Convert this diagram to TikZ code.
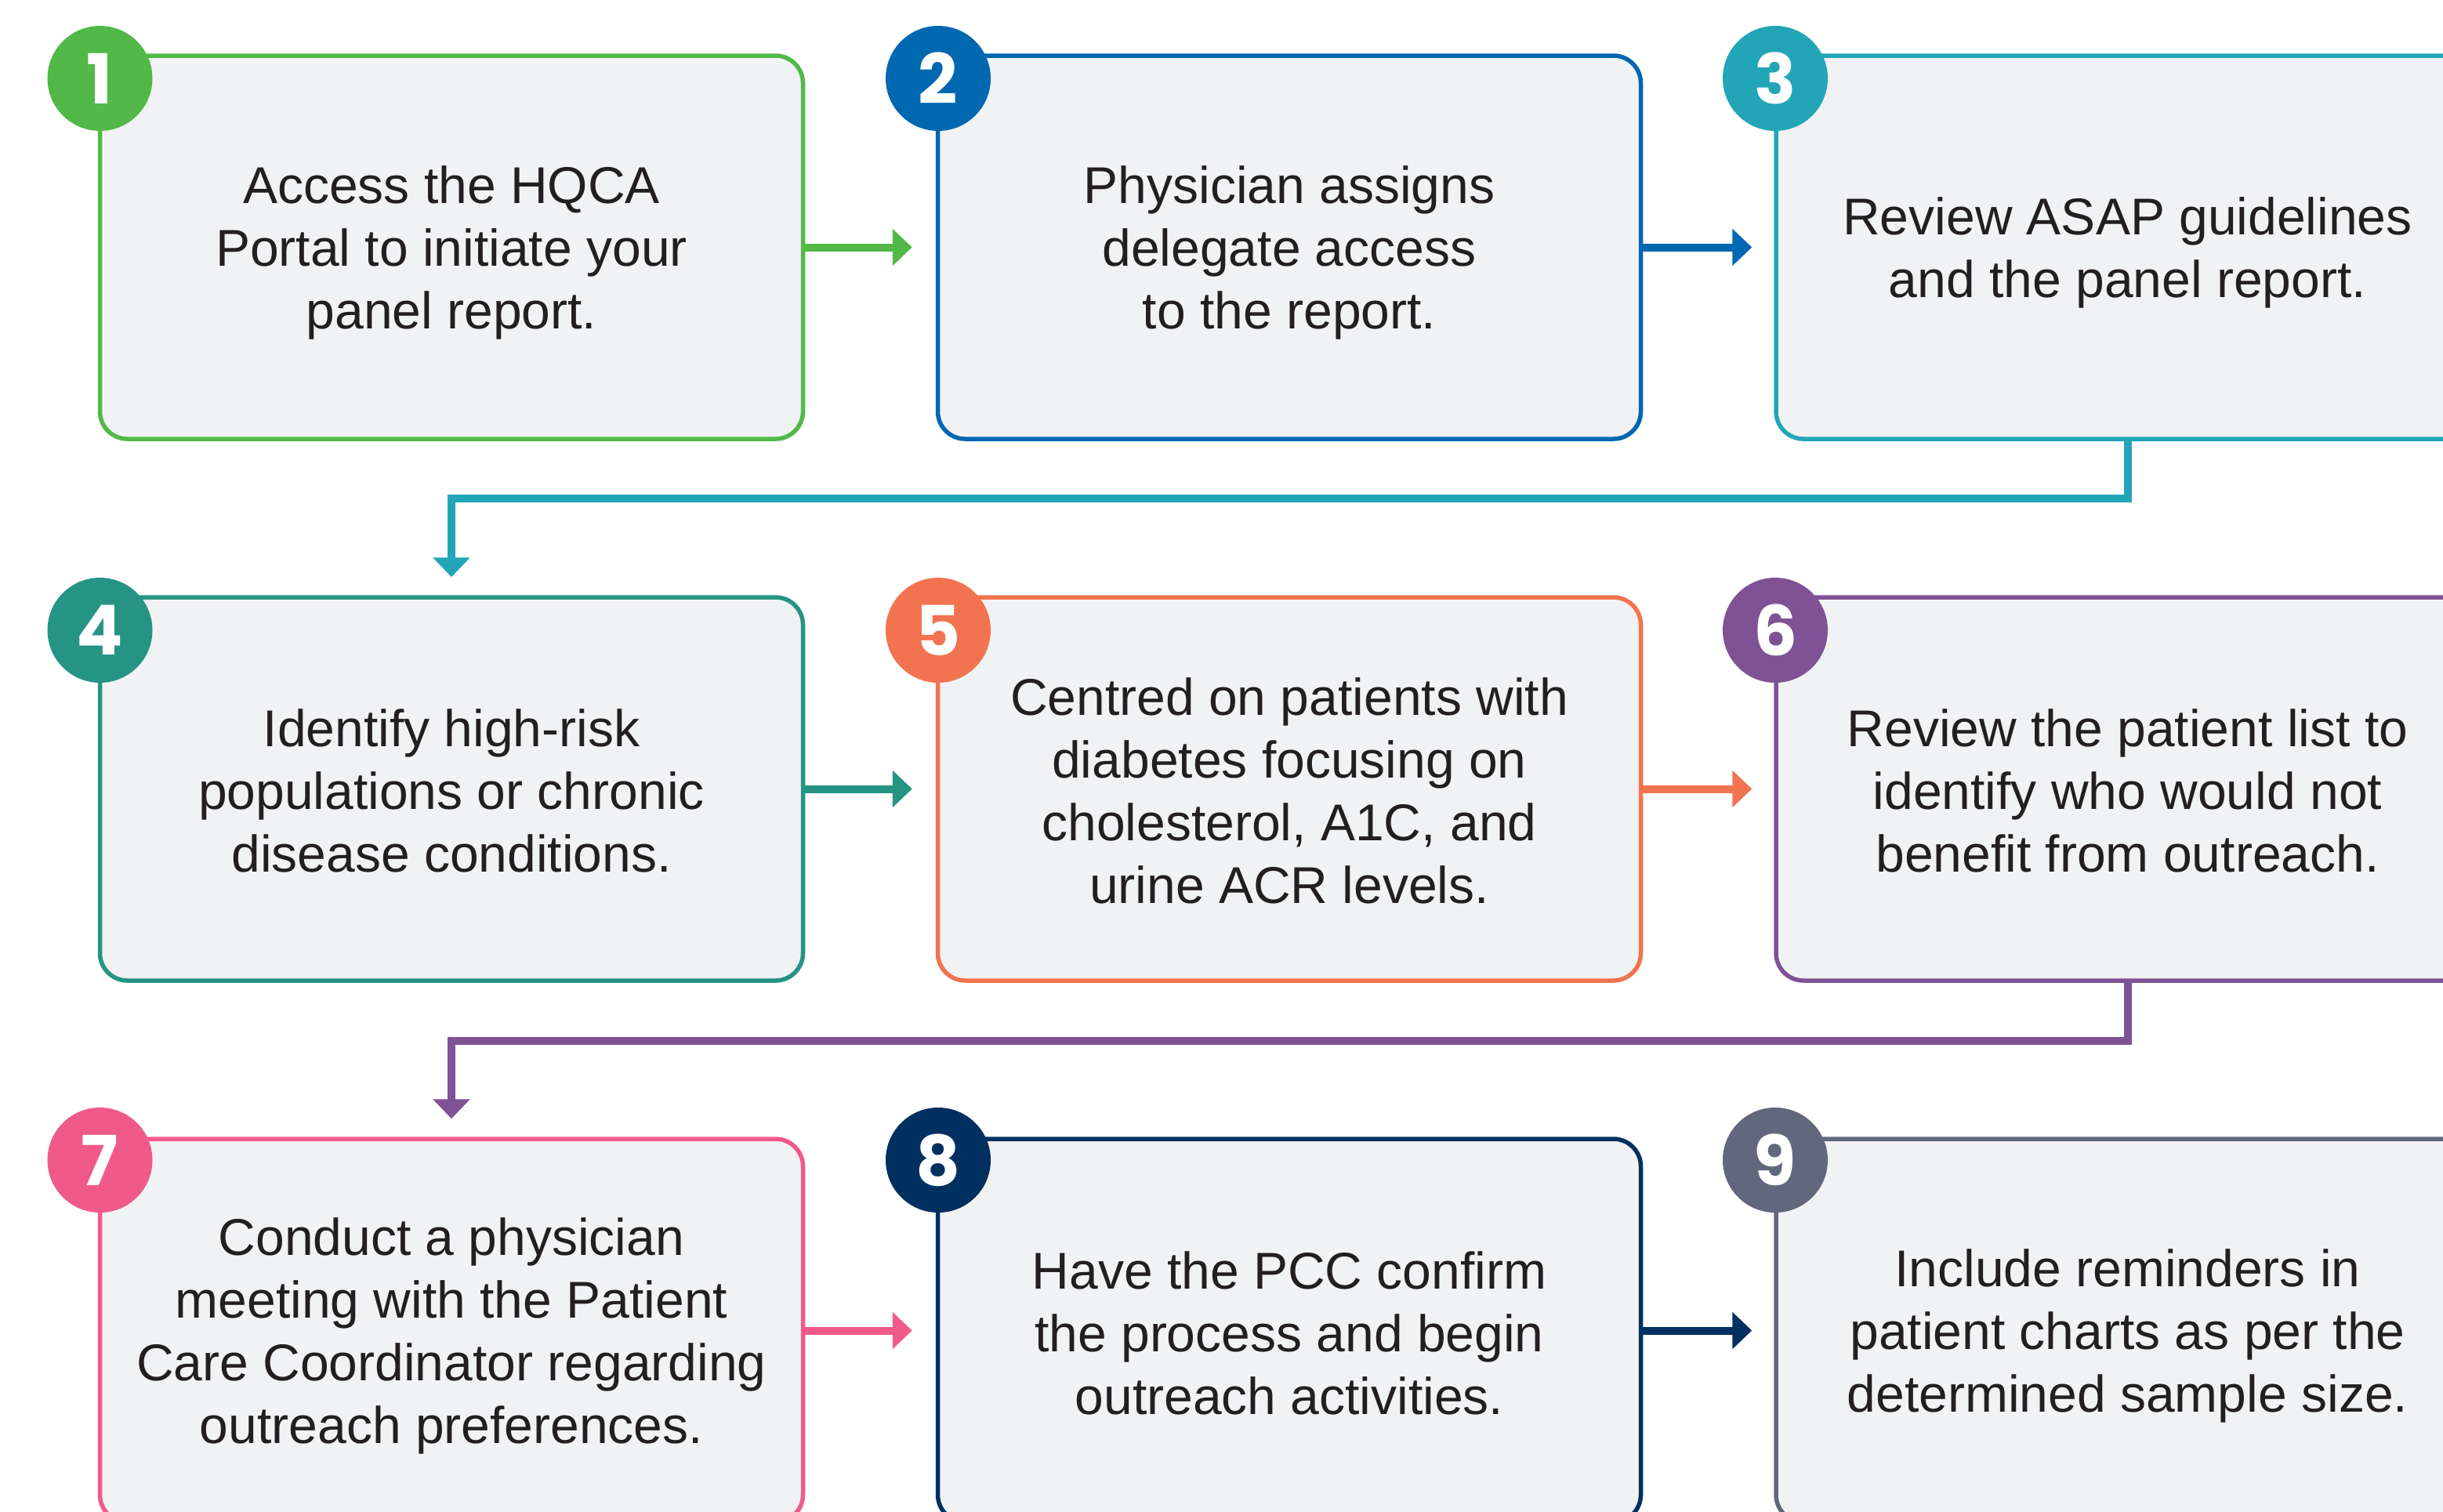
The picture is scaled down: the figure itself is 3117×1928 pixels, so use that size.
\documentclass[tikz,border=0pt]{standalone}
\usepackage{fontspec}
\setmainfont{Liberation Sans}
\newfontfamily\numfont{Poppins}
\usetikzlibrary{arrows.meta}
\definecolor{cgreen}{HTML}{52B948}
\definecolor{cblue}{HTML}{0067B1}
\definecolor{cteal}{HTML}{22A6B7}
\definecolor{cdteal}{HTML}{269484}
\definecolor{corange}{HTML}{F27350}
\definecolor{cpurple}{HTML}{7E5294}
\definecolor{cpink}{HTML}{F05A8A}
\definecolor{cnavy}{HTML}{003060}
\definecolor{cslate}{HTML}{61687D}
\definecolor{boxfill}{HTML}{F1F2F4}
\definecolor{txt}{HTML}{231F20}
\tikzset{
  stepbox/.style={draw=#1, line width=5.5pt, fill=boxfill, rounded corners=35pt,
    minimum width=897pt, minimum height=489pt},
  steptext/.style={align=center, text=txt, inner sep=0pt,
    font=\fontsize{66pt}{80pt}\selectfont},
  badge/.style={circle, fill=#1, minimum size=134pt, inner sep=0pt, text=white,
    font=\numfont\bfseries\fontsize{88pt}{88pt}\selectfont},
  conn/.style={draw=#1, line width=10pt, -{Triangle[length=25pt,width=46pt]}}
}
\begin{document}
\begin{tikzpicture}[x=1pt,y=-1pt]
\useasboundingbox (0,0) rectangle (3117,1928);
\clip (0,0) rectangle (3117,1928);
\fill[white] (0,0) rectangle (3117,1928);

% boxes
\node[stepbox=cgreen] (box1) at (576,315.5) {};
\node[stepbox=cblue] (box2) at (1645,315.5) {};
\node[stepbox=cteal] (box3) at (2714.5,315.5) {};
\node[stepbox=cdteal] (box4) at (576,1006.5) {};
\node[stepbox=corange] (box5) at (1645,1006.5) {};
\node[stepbox=cpurple] (box6) at (2714.5,1006.5) {};
\node[stepbox=cpink] (box7) at (576,1697.5) {};
\node[stepbox=cnavy] (box8) at (1645,1697.5) {};
\node[stepbox=cslate] (box9) at (2714.5,1697.5) {};

% texts
\node[steptext] (t1) at ([yshift=-7pt]box1.center) {Access the HQCA\\Portal to initiate your\\panel report.};
\node[steptext] (t2) at ([yshift=-7pt]box2.center) {Physician assigns\\delegate access\\to the report.};
\node[steptext] (t3) at ([yshift=-7pt]box3.center) {Review ASAP guidelines\\and the panel report.};
\node[steptext] (t4) at ([yshift=-2pt]box4.center) {Identify high-risk\\populations or chronic\\disease conditions.};
\node[steptext] (t5) at ([yshift=-2pt]box5.center) {Centred on patients with\\diabetes focusing on\\cholesterol, A1C, and\\urine ACR levels.};
\node[steptext] (t6) at ([yshift=-2pt]box6.center) {Review the patient list to\\identify who would not\\benefit from outreach.};
\node[steptext] (t7) at ([yshift=-7pt]box7.center) {Conduct a physician\\meeting with the Patient\\Care Coordinator regarding\\outreach preferences.};
\node[steptext] (t8) at ([yshift=-3pt]box8.center) {Have the PCC confirm\\the process and begin\\outreach activities.};
\node[steptext] (t9) at ([yshift=-7pt]box9.center) {Include reminders in\\patient charts as per the\\determined sample size.};

% badges
\node[badge=cgreen] (b1) at (127.5,100) {1};
\node[badge=cblue] (b2) at (1197,100) {2};
\node[badge=cteal] (b3) at (2265,100) {3};
\node[badge=cdteal] (b4) at (127.5,804) {4};
\node[badge=corange] (b5) at (1197,804) {5};
\node[badge=cpurple] (b6) at (2265,804) {6};
\node[badge=cpink] (b7) at (127.5,1480) {7};
\node[badge=cnavy] (b8) at (1197,1480) {8};
\node[badge=cslate] (b9) at (2265,1480) {9};

% connectors
\draw[conn=cgreen, shorten >=30pt] (box1.east) -- (box2.west);
\draw[conn=cblue, shorten >=28pt] (box2.east) -- (box3.west);
\draw[conn=cdteal, shorten >=30pt] (box4.east) -- (box5.west);
\draw[conn=corange, shorten >=28pt] (box5.east) -- (box6.west);
\draw[conn=cpink, shorten >=30pt] (box7.east) -- (box8.west);
\draw[conn=cnavy, shorten >=28pt] (box8.east) -- (box9.west);
\draw[conn=cteal, shorten >=23pt] (box3.south) -- ++(0,73) -| (box4.north);
\draw[conn=cpurple, shorten >=23pt] (box6.south) -- ++(0,74) -| (box7.north);
\end{tikzpicture}
\end{document}
